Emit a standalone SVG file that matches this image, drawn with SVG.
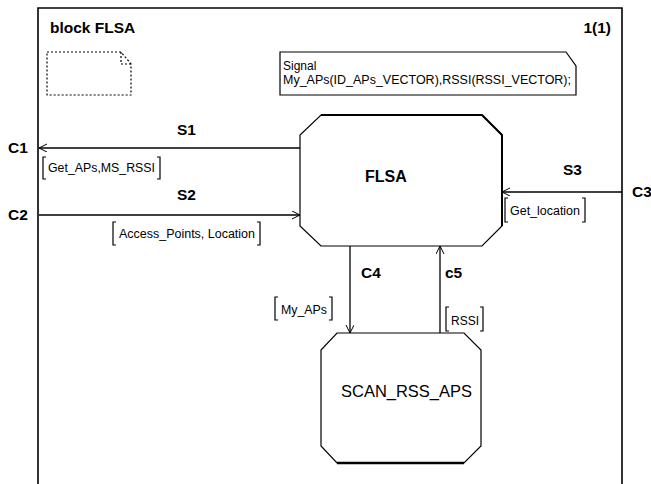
<svg xmlns="http://www.w3.org/2000/svg" width="651" height="484" viewBox="0 0 651 484">
<style>
.lbl{font-family:"Liberation Sans",Arial,sans-serif;font-weight:bold;font-size:15.5px;fill:#000}
.sig{font-family:"Liberation Sans",Arial,sans-serif;font-size:12px;fill:#000}
.note{font-family:"Liberation Sans",Arial,sans-serif;font-size:12px;fill:#000}
.ln{fill:none;stroke:#000;stroke-width:1.3}
.br{fill:none;stroke:#000;stroke-width:1.2}
.blk{fill:#fff;stroke:#000;stroke-width:1.2}
</style>
<defs>
<marker id="arr" markerUnits="userSpaceOnUse" markerWidth="10" markerHeight="10" refX="8" refY="4" orient="auto">
<path d="M0,0 L8,4 L0,8" fill="none" stroke="#000" stroke-width="1"/>
</marker>
</defs>
<rect width="651" height="484" fill="#fff"/>
<g id="frame">
<path d="M38,484 V8 H622 V484" fill="none" stroke="#000" stroke-width="1.6"/>
<text class="lbl" x="50" y="33">block FLSA</text>
<text class="lbl" x="611" y="33" text-anchor="end">1(1)</text>
</g>
<g id="page-icon">
<path d="M47,52 H121 L131,64 V95 H47 Z" fill="none" stroke="#000" stroke-width="1.2" stroke-dasharray="2,2"/>
<path d="M121,52 V64 H131" fill="none" stroke="#000" stroke-width="1.2" stroke-dasharray="2,2"/>
</g>
<g id="signal-note">
<path d="M280,52 H566 L576,66 V95 H280 Z" fill="#fff" stroke="#000" stroke-width="1.2"/>
<text class="note" x="283" y="70">Signal</text>
<text class="note" x="283" y="84" textLength="288" lengthAdjust="spacingAndGlyphs">My_APs(ID_APs_VECTOR),RSSI(RSSI_VECTOR);</text>
</g>
<g id="FLSA">
<polygon class="blk" points="321,115 482,115 502,135 502,226 482,246 321,246 300,226 300,135"/>
<path d="M321,115 H482 L502,135 V226" fill="none" stroke="#000" stroke-width="2"/>
<text x="365" y="182" style="font-family:'Liberation Sans',Arial,sans-serif;font-weight:bold;font-size:16px">FLSA</text>
</g>
<g id="SCAN_RSS_APS">
<polygon class="blk" points="337,333 464,333 481,350 481,446 464,463 337,463 321,446 321,350"/>
<path d="M337,463 H464" fill="none" stroke="#000" stroke-width="2.5"/>
<text x="341" y="397" textLength="131" lengthAdjust="spacingAndGlyphs" style="font-family:'Liberation Sans',Arial,sans-serif;font-size:16.5px">SCAN_RSS_APS</text>
</g>
<g id="connectors">
<line class="ln" x1="300" y1="148" x2="39" y2="148" marker-end="url(#arr)"/>
<line class="ln" x1="39" y1="215" x2="300" y2="215" marker-end="url(#arr)"/>
<line class="ln" x1="622" y1="192" x2="502" y2="192" stroke-width="2" marker-end="url(#arr)"/>
<line class="ln" x1="350" y1="246" x2="350" y2="333" stroke-width="2" marker-end="url(#arr)"/>
<line class="ln" x1="440" y1="333" x2="440" y2="246" stroke-width="1" marker-end="url(#arr)"/>
<text class="lbl" x="8" y="153">C1</text>
<text class="lbl" x="8" y="220">C2</text>
<text class="lbl" x="632" y="197">C3</text>
<text class="lbl" x="177" y="135">S1</text>
<text class="lbl" x="177" y="200">S2</text>
<text class="lbl" x="563" y="175">S3</text>
<text class="lbl" x="361" y="278">C4</text>
<text class="lbl" x="445" y="278">c5</text>
<path class="br" d="M46,157 H43 V179 H46 M157,157 H160 V179 H157"/>
<text class="sig" x="48" y="172" textLength="107" lengthAdjust="spacingAndGlyphs">Get_APs,MS_RSSI</text>
<path class="br" d="M116,222 H113 V245 H116 M257,222 H260 V245 H257"/>
<text class="sig" x="119" y="238" textLength="136" lengthAdjust="spacingAndGlyphs">Access_Points, Location</text>
<path class="br" d="M508,198 H505 V222 H508 M582,198 H585 V222 H582"/>
<text class="sig" x="510" y="215" textLength="70" lengthAdjust="spacingAndGlyphs">Get_location</text>
<path class="br" d="M278,297 H275 V320 H278 M329,297 H332 V320 H329"/>
<text class="sig" x="281" y="314" textLength="46" lengthAdjust="spacingAndGlyphs">My_APs</text>
<path class="br" d="M449,307 H446 V331 H449 M480,307 H483 V331 H480"/>
<text class="sig" x="451" y="325" textLength="28" lengthAdjust="spacingAndGlyphs">RSSI</text>
</g>
</svg>
